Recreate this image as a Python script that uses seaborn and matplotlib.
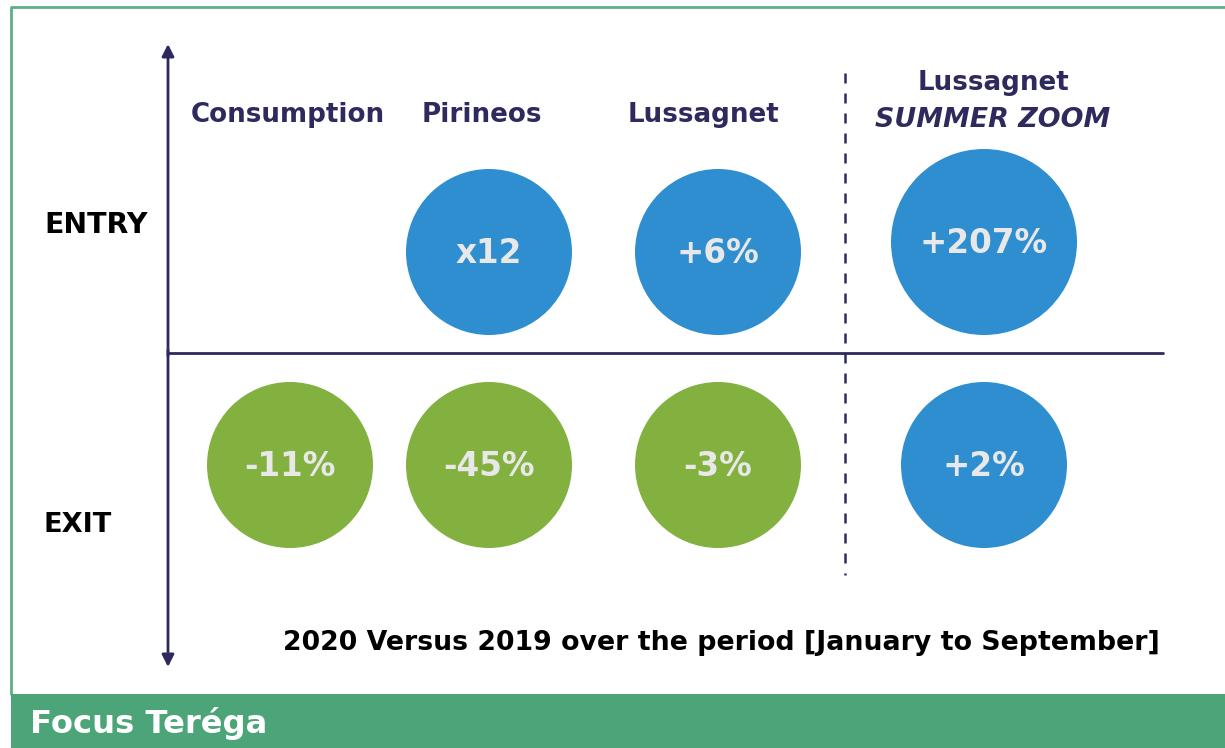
import matplotlib
matplotlib.use("Agg")
import matplotlib.pyplot as plt
import seaborn as sns
import pandas as pd

# ---- data ----
columns = ["Consumption", "Pirineos", "Lussagnet", "Lussagnet"]
column_subtitles = ["", "", "", "SUMMER ZOOM"]
rows = ["ENTRY", "EXIT"]
entry_labels = [None, "x12", "+6%", "+207%"]
exit_labels = ["-11%", "-45%", "-3%", "+2%"]
entry_trend = [None, "up", "up", "up"]
exit_trend = ["down", "down", "down", "up"]
footnote = "2020 Versus 2019 over the period [January to September]"
banner = "Focus Teréga"

# ---- layout / style ----
W, H, DPI = 1225, 748, 100
NAVY = "#2E2A5E"
BLUE = "#2E8ECF"
GREEN = "#82B13F"
BAR = "#4CA579"
TXT = "#E8E8E8"
FONT = "DejaVu Sans"

col_x = [290, 489, 718, 984]
row_y = {"ENTRY": 252, "EXIT": 465}
radius_px = 83
big_radius_px = 93

sns.set_theme(style="white")
plt.rcParams["font.family"] = [FONT]

fig = plt.figure(figsize=(W / DPI, H / DPI), dpi=DPI)
ax = fig.add_axes([0, 0, 1, 1])
renderer = fig.canvas.get_renderer()


def size_for(s, width_px, **kw):
    t = ax.text(0, 0, s, fontsize=20, **kw)
    w = t.get_window_extent(renderer=renderer).width
    t.remove()
    return 20 * width_px / w


def fit_text(x, y, s, width_px, **kw):
    return ax.text(x, y, s, fontsize=size_for(s, width_px, fontweight=kw.get("fontweight"),
                                              fontstyle=kw.get("fontstyle", "normal")), **kw)


# build table of cells
recs = []
for i, (lab, tr) in enumerate(zip(entry_labels, entry_trend)):
    if lab is None:
        continue
    big = (i == 3)
    recs.append(dict(x=col_x[i], y=row_y["ENTRY"] - (10 if big else 0), label=lab, trend=tr,
                     r=big_radius_px if big else radius_px))
for i, (lab, tr) in enumerate(zip(exit_labels, exit_trend)):
    recs.append(dict(x=col_x[i], y=row_y["EXIT"], label=lab, trend=tr, r=radius_px))
df = pd.DataFrame(recs)
df["s"] = (2 * df["r"] * 72 / DPI) ** 2

sns.scatterplot(data=df, x="x", y="y", hue="trend", size="s", sizes=(df["s"].min(), df["s"].max()),
                palette={"up": BLUE, "down": GREEN}, linewidth=0, legend=False, ax=ax, zorder=3)
ax.set_xlim(0, W)
ax.set_ylim(H, 0)
ax.axis("off")

circle_fs = (size_for("+207%", 124, fontweight="bold") + size_for("-45%", 95, fontweight="bold")) / 2
for _, r in df.iterrows():
    ax.text(r["x"], r["y"] + 1, r["label"], ha="center", va="center", color=TXT,
            fontsize=circle_fs, fontweight="bold", zorder=4)

# axes arrows
ax.annotate("", xy=(168, 44), xytext=(168, 356),
            arrowprops=dict(arrowstyle="-|>", color=NAVY, lw=2, mutation_scale=18, shrinkA=0, shrinkB=0))
ax.annotate("", xy=(168, 667), xytext=(168, 350),
            arrowprops=dict(arrowstyle="-|>", color=NAVY, lw=2, mutation_scale=18, shrinkA=0, shrinkB=0))
ax.plot([168, 1163], [353, 353], color=NAVY, lw=2, zorder=2)
ax.plot([845, 845], [73, 575], color=NAVY, lw=1.8, ls=(0, (4, 4)), zorder=2)

# column headers
hdr_x = [288, 482, 703, 993]
hdr_fs = (size_for("Consumption", 203, fontweight="bold") + size_for("Lussagnet", 151, fontweight="bold")
          + size_for("Pirineos", 115, fontweight="bold")) / 3
for i, (c, sub) in enumerate(zip(columns, column_subtitles)):
    if sub:
        ax.text(hdr_x[i], 83, c, ha="center", va="center", color=NAVY, fontsize=hdr_fs, fontweight="bold")
        fit_text(hdr_x[i], 120, sub, 235, ha="center", va="center", color=NAVY,
                 fontweight="bold", fontstyle="italic")
    else:
        ax.text(hdr_x[i], 115, c, ha="center", va="center", color=NAVY, fontsize=hdr_fs, fontweight="bold")

# row labels
fit_text(44, 225, rows[0], 103, ha="left", va="center", color="black", fontweight="bold")
fit_text(44, 525, rows[1], 68, ha="left", va="center", color="black", fontweight="bold")

fit_text(1160, 643, footnote, 877, ha="right", va="center", color="black", fontweight="bold")

# frame and banner
ax.plot([11, 11, 1225], [694, 7, 7], color="#5DAF86", lw=2, zorder=1)
ax.add_patch(plt.Rectangle((11, 694), W - 11, H - 694, color=BAR, zorder=1, lw=0))
fit_text(30, 724, banner, 238, ha="left", va="center", color="white", fontweight="bold")

fig.savefig("out.png", dpi=DPI)
